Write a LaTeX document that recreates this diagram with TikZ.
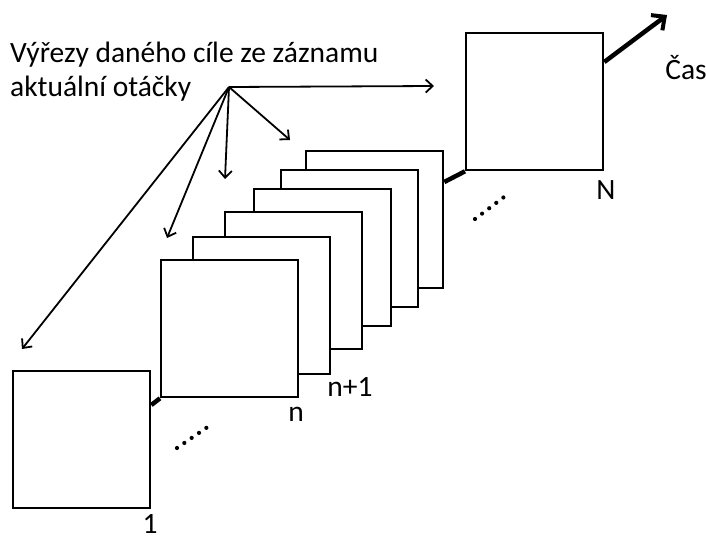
\documentclass[tikz,border=0pt]{standalone}
\usepackage{fontspec}
\setmainfont{Carlito}
\usetikzlibrary{arrows.meta}
\begin{document}
\begin{tikzpicture}[x=1pt,y=-1pt,
  frame/.style={draw,line width=2.3pt,fill=white,minimum width=137pt,minimum height=137pt,inner sep=0pt,anchor=north west},
  lbl/.style={font=\fontsize{29.5}{34}\selectfont,inner sep=0pt},
  pointer/.style={line width=1.8pt,-{Straight Barb[length=7pt,width=13pt,line width=1.8pt]}},
  conn/.style={line width=4.5pt},
  dotline/.style={line width=4.2pt,line cap=round,dash pattern=on 0pt off 8.9pt},
  timearrow/.style={line width=4.5pt,-{Straight Barb[length=10pt,width=19pt,line width=4pt]}}]
\useasboundingbox (0,0) rectangle (706,540);
% text
\node[lbl,anchor=base west] (t1) at (10,63) {Výřezy daného cíle ze záznamu};
\node[lbl,anchor=base west] (t2) at (10,97) {aktuální otáčky};
% boxes, back to front
\node[frame] (bN) at (465,32) {};
\node[frame] (b6) at (305,150) {};
\node[frame] (b5) at (280,169) {};
\node[frame] (b4) at (253,188) {};
\node[frame] (b3) at (224,211) {};
\node[frame] (b2) at (192,236) {};
\node[frame] (bn) at (160,259) {};
\node[frame] (b1) at (12,370) {};
% connectors
\draw[conn] (b1.north east) ++(0,35) -- (bn.south west);
\draw[conn] (b6.north east) ++(0,32) -- (bN.south west);
\coordinate (tEnd) at (667,15);
\draw[timearrow] (bN.north east) ++(0,30) -- (tEnd);
% dots
\coordinate (d1a) at (177,448);
\coordinate (d1b) at (209,426);
\draw[dotline] (d1a) -- (d1b);
\coordinate (d2a) at (475,219);
\coordinate (d2b) at (504,197);
\draw[dotline] (d2a) -- (d2b);
% pointer arrows
\coordinate (o) at (229,87);
\coordinate (p1) at (434,86);
\coordinate (p2) at (290,140);
\coordinate (p3) at (225,179);
\coordinate (p4) at (167,238);
\coordinate (p5) at (22,349);
\foreach \p in {p1,p2,p3,p4,p5} \draw[pointer] (o) -- (\p);
% labels
\node[lbl] (l1) at (150,524) {1};
\node[lbl] (ln) at (296,414) {n};
\node[lbl] (ln1) at (350,387) {n+1};
\node[lbl] (lN) at (606,190) {N};
\node[lbl] (lcas) at (686,68) {Čas};
\end{tikzpicture}
\end{document}
